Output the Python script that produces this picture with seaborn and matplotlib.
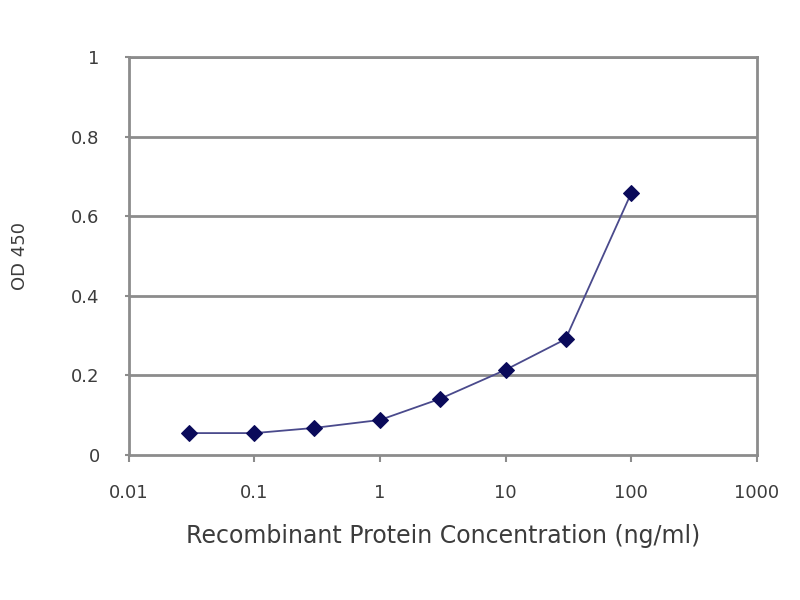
import numpy as np
import pandas as pd
import matplotlib
matplotlib.use('Agg')
import matplotlib.pyplot as plt
import seaborn as sns

conc = [0.03, 0.1, 0.3, 1, 3, 10, 30, 100]
od450 = [0.055, 0.055, 0.068, 0.088, 0.141, 0.214, 0.291, 0.658]
xticks = [0.01, 0.1, 1, 10, 100, 1000]
xticklabels = ['0.01', '0.1', '1', '10', '100', '1000']
yticks = [0, 0.2, 0.4, 0.6, 0.8, 1]
yticklabels = ['0', '0.2', '0.4', '0.6', '0.8', '1']

sns.set_style('white')
plt.rcParams['font.family'] = ['DejaVu Sans']

df = pd.DataFrame({'conc': conc, 'od': od450})

fig = plt.figure(figsize=(8, 6), dpi=100)
ax = fig.add_axes([0.161, 0.2417, 0.785, 0.6633])

for y in yticks[1:]:
    ax.axhline(y, color='#8c8c8c', lw=2, zorder=0)

sns.lineplot(data=df, x='conc', y='od', ax=ax, color='#4a4a8c', lw=1.3,
             marker='D', markersize=8, markerfacecolor='#0a0a5a',
             markeredgecolor='#0a0a5a')

ax.set_xscale('log')
ax.set_xlim(0.01, 1000)
ax.set_ylim(0, 1)
ax.set_xticks(xticks)
ax.set_xticklabels(xticklabels)
ax.set_yticks(yticks)
ax.set_yticklabels(yticklabels)
ax.minorticks_off()
ax.tick_params(axis='x', direction='out', length=5, width=1.5, color='#8c8c8c',
               bottom=True, labelsize=13, pad=16, labelcolor='#3c3c3c')
ax.tick_params(axis='y', direction='out', length=3, width=1.5, color='#8c8c8c',
               left=True, labelsize=13, pad=18, labelcolor='#3c3c3c')

for s in ax.spines.values():
    s.set_color('#8c8c8c')
    s.set_linewidth(2)

ax.set_xlabel('Recombinant Protein Concentration (ng/ml)', fontsize=17,
              color='#3c3c3c', labelpad=16)
ax.set_ylabel('OD 450', fontsize=13, color='#3c3c3c', labelpad=30)

fig.savefig('out.png', dpi=100)
